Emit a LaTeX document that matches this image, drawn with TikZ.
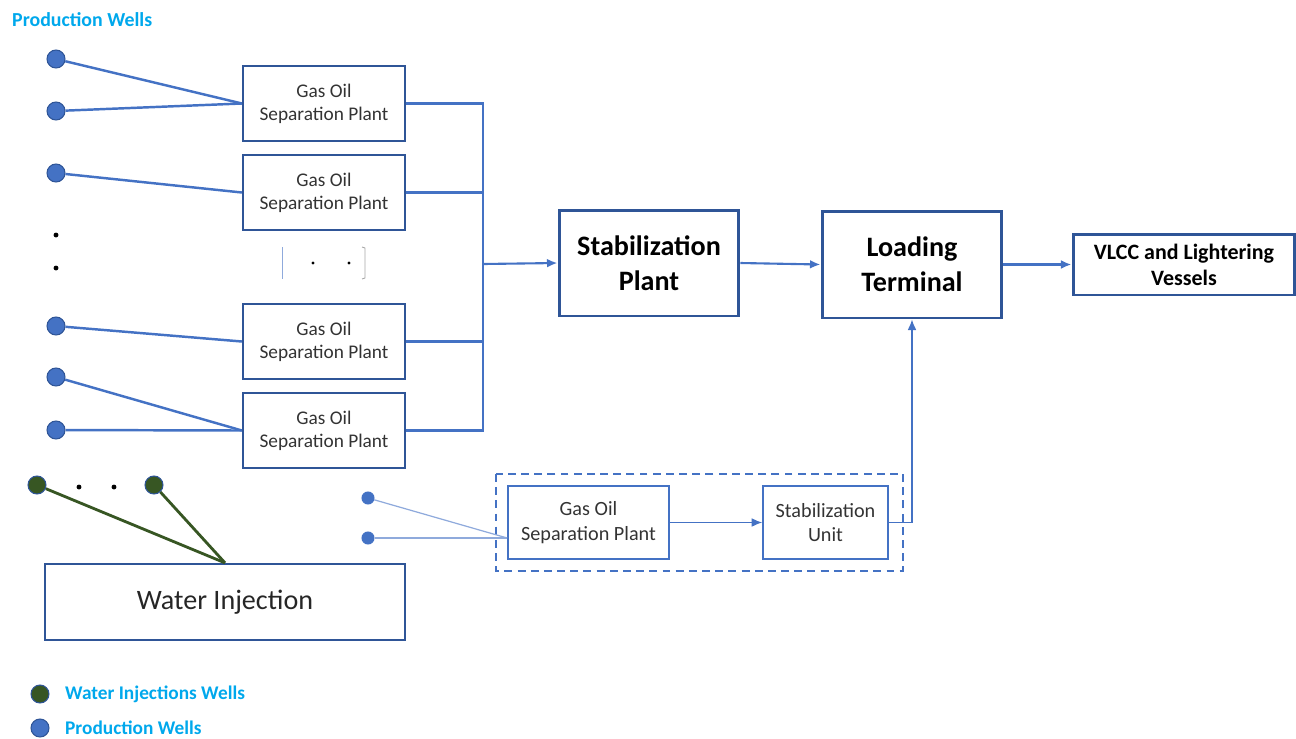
\documentclass[tikz,border=0pt]{standalone}
\usepackage{fontspec}
\setmainfont{Carlito}
\usetikzlibrary{arrows.meta}

\definecolor{boxblue}{HTML}{2F5597}
\definecolor{lineblue}{HTML}{4472C4}
\definecolor{wellgreen}{HTML}{375623}
\definecolor{legendcyan}{HTML}{00A8EC}
\definecolor{faintblue}{HTML}{8FAADC}

\tikzset{
	gosp/.style = {draw=boxblue, line width=1.3pt, minimum width=3.24cm, minimum height=1.5cm,
		align=center, inner sep=1pt, text=black!80, font=\fontsize{11}{13}\selectfont},
	gospthin/.style = {gosp, draw=lineblue, line width=0.9pt, minimum height=1.46cm,
		font=\fontsize{11.5}{14}\selectfont},
	bigbox/.style = {draw=boxblue, line width=1.7pt, minimum width=3.6cm, minimum height=2.12cm,
		align=center, font=\fontsize{16}{19.8}\selectfont\bfseries},
	prodwell/.style = {circle, fill=lineblue, draw=boxblue, line width=0.6pt, inner sep=0pt, minimum size=0.36cm},
	waterwell/.style = {prodwell, fill=wellgreen},
	wellline/.style = {draw=lineblue, line width=1.4pt},
	waterline/.style = {draw=wellgreen, line width=1.6pt},
	busline/.style = {draw=lineblue, line width=1.2pt},
	flow/.style = {busline, -{Latex[length=6pt, width=5pt]}},
	legendtext/.style = {anchor=west, text=legendcyan, font=\fontsize{11}{13}\selectfont\bfseries}
}

\begin{document}
\begin{tikzpicture}[x=0.02cm, y=-0.02cm]
	\useasboundingbox (0,0) rectangle (1296,738);
	
	\node [legendtext, font=\fontsize{11.3}{13}\selectfont\bfseries] (title) at (6,20) {Production Wells};
	
	% production wells and separation plants
	\foreach \name/\y in {pw1/59, pw2/111, pw3/173, pw4/326, pw5/377, pw6/430}
		\node [prodwell] (\name) at (56,\y) {};
	\foreach \y in {235,268}
		\fill (56,\y) circle (1.4pt);
	
	\node [gosp] (gosp1) at (324,103.5) {Gas Oil\\Separation Plant};
	\node [gosp] (gosp2) at (324,192.5) {Gas Oil\\Separation Plant};
	\node [gosp] (gosp3) at (324,341.5) {Gas Oil\\Separation Plant};
	\node [gosp] (gosp4) at (324,430.5) {Gas Oil\\Separation Plant};
	
	\draw [wellline] (pw1) -- (gosp1.west);
	\draw [wellline] (pw2) -- (gosp1.west);
	\draw [wellline] (pw3) -- (gosp2.west);
	\draw [wellline] (pw4) -- (gosp3.west);
	\draw [wellline] (pw5) -- (gosp4.west);
	\draw [wellline] (pw6) -- (gosp4.west);
	
	% the dots between the plants
	\draw [faintblue, line width=0.5pt] (282,247) -- (282,279);
	\draw [gray!70, line width=0.5pt] (362,247) -- (365,248) -- (365,278) -- (362,279);
	\fill (313,263) circle (0.9pt);
	\fill (349,263) circle (0.9pt);
	
	% collector
	\coordinate (bus) at (483,264);
	\draw [busline] (gosp1.east) -- (gosp1.east -| bus) -- (gosp4.east -| bus) -- (gosp4.east);
	\draw [busline] (gosp2.east) -- (gosp2.east -| bus);
	\draw [busline] (gosp3.east) -- (gosp3.east -| bus);
	
	\node [bigbox] (stab) at (649,263) {Stabilization\\Plant};
	\node [bigbox, minimum height=2.14cm] (load) at (912,264.5) {Loading\\Terminal};
	\node [bigbox, minimum width=4.44cm, minimum height=1.22cm, font=\fontsize{12.5}{14.7}\selectfont\bfseries]
		(vlcc) at (1184,264.5) {VLCC and Lightering\\Vessels};
	
	\draw [flow] (bus) -- (stab.west);
	\draw [flow] (stab.east) -- (load.west);
	\draw [flow] (load.east) -- (vlcc.west);
	
	% water injection
	\node [waterwell] (ww1) at (37,485) {};
	\node [waterwell] (ww2) at (154,485) {};
	\fill (79,487) circle (1.4pt);
	\fill (114,487) circle (1.4pt);
	\node [draw=boxblue, line width=1.3pt, minimum width=7.2cm, minimum height=1.52cm,
		text=black!85, font=\fontsize{16}{18}\selectfont] (wi) at (225,602) {Water Injection};
	\draw [waterline] (ww1) -- (wi.north);
	\draw [waterline] (ww2) -- (wi.north);
	
	% satellite field
	\draw [lineblue, line width=0.8pt, dash pattern=on 4.5pt off 3pt] (496,474) rectangle (903,571);
	\node [gospthin, minimum width=3.22cm] (gosp5) at (588.5,522.5) {Gas Oil\\Separation Plant};
	\node [gospthin, minimum width=2.5cm] (su) at (825.5,522.5) {Stabilization\\Unit};
	\node [prodwell, minimum size=0.24cm, draw=lineblue] (pwa) at (368,498) {};
	\node [prodwell, minimum size=0.24cm, draw=lineblue] (pwb) at (368,538) {};
	\draw [faintblue, line width=0.7pt] (pwa) -- (gosp5.west |- pwb);
	\draw [faintblue, line width=0.7pt] (pwb) -- (gosp5.west |- pwb);
	\draw [lineblue, line width=0.7pt, -{Latex[length=6pt, width=5pt]}] (gosp5.east) -- (su.west);
	\draw [lineblue, line width=0.7pt, -{Latex[length=6pt, width=5pt]}] (su.east) -| (load.south);
	
	% legend
	\node [waterwell] (lgw) at (40,694) {};
	\node [legendtext] (lgwtext) at (59,694) {Water Injections Wells};
	\node [prodwell] (lgp) at (40,728) {};
	\node [legendtext] (lgptext) at (59,728) {Production Wells};
\end{tikzpicture}
\end{document}
